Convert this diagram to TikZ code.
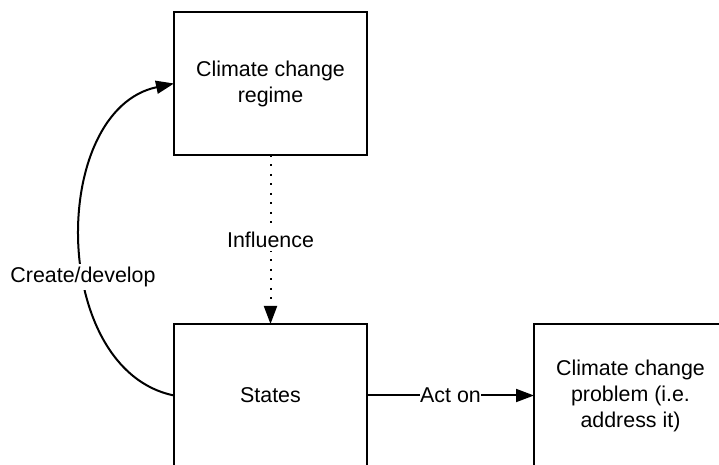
\documentclass[tikz,border=0pt]{standalone}
\usepackage{fontspec}
\setmainfont{Liberation Sans}
\usetikzlibrary{arrows.meta}
\begin{document}
\begin{tikzpicture}[x=0.5pt,y=-0.5pt,
  txt/.style={font=\fontsize{10.7pt}{13pt}\selectfont},
  box/.style={txt, draw, line width=1.3pt, minimum width=96.5pt, minimum height=71.5pt, inner sep=0pt, outer sep=0pt, align=center},
  lbl/.style={txt, fill=white, inner sep=0.3pt},
  conn/.style={line width=1pt, -{Triangle[length=9pt,width=6.5pt]}}]
\useasboundingbox (0,0) rectangle (719,465);
\clip (0,0) rectangle (719,465);
\node[box] (top) at (270.5,83.5) {Climate change\\regime};
\node[box] (states) at (270.5,395.5) {States};
\node[box] (prob) at (630.5,395.5) {Climate change\\problem (i.e.\\address it)};
\draw[conn] (states.west) .. controls (49,370) and (49,110) .. (top.west);
\node[lbl, inner sep=1.5pt] (cd) at (83,277) {Create/develop};
\draw[conn, dash pattern=on 1pt off 3.75pt] (top.south) -- node[lbl, inner sep=2pt] (inf) {Influence} (states.north);
\draw[conn] (states.east) -- node[lbl] (act) {Act on} (prob.west);
\end{tikzpicture}
\end{document}
